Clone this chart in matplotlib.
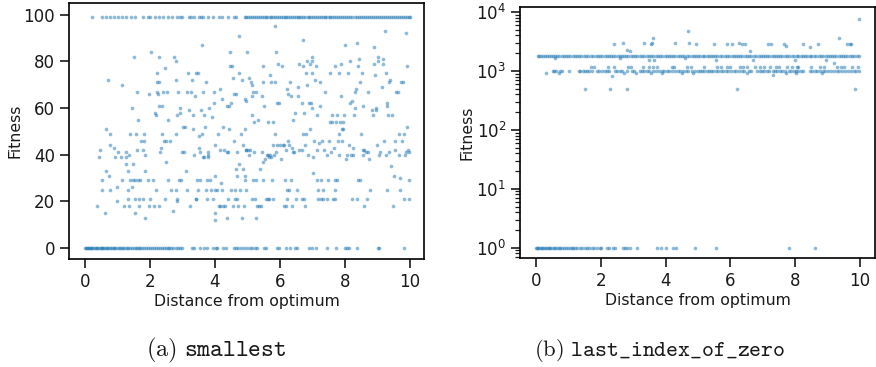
import matplotlib.pyplot as plt
import numpy as np

plt.rcParams['mathtext.fontset'] = 'cm'
plt.rcParams['font.size'] = 11.3
plt.rcParams['text.color'] = '#1a1a1a'
plt.rcParams['axes.labelcolor'] = '#1a1a1a'
plt.rcParams['xtick.color'] = '#1a1a1a'
plt.rcParams['ytick.color'] = '#1a1a1a'

# --- (a) smallest ---
a_top_x = [0.22, 0.51, 0.64, 0.76, 0.88, 1.01, 1.13, 1.25, 1.41, 1.53, 1.79, 1.95, 1.99, 2.16, 2.28,
           2.4, 2.56, 2.68, 2.82, 2.93, 2.98, 3.21, 3.26, 3.35, 3.51, 3.57, 3.64, 3.79, 3.95, 4.11,
           4.23, 4.39, 4.59, 4.64,
           4.92, 4.97, 5.03, 5.08, 5.15, 5.2, 5.27, 5.33, 5.38, 5.45, 5.5, 5.56, 5.61, 5.68, 5.72,
           5.79, 5.85, 5.9, 5.96, 6.02, 6.08, 6.15, 6.2, 6.26, 6.31, 6.38, 6.44, 6.5, 6.55, 6.6,
           6.66, 6.72, 6.78, 6.85, 6.9, 6.95, 7.01, 7.07, 7.13, 7.2, 7.25, 7.31, 7.37, 7.43, 7.5,
           7.55, 7.6, 7.66, 7.72, 7.79, 7.84, 7.9, 7.97, 8.03, 8.1, 8.16, 8.22, 8.3, 8.36, 8.42,
           8.49, 8.55, 8.61, 8.68, 8.73, 8.8, 8.86, 8.92, 8.98, 9.05, 9.1, 9.17, 9.23, 9.3, 9.36,
           9.42, 9.48, 9.55, 9.6, 9.67, 9.73, 9.79, 9.85, 9.9, 9.96, 10.0]
a_top_val = 99

a_zero_x = [0.0, 0.03, 0.06, 0.09, 0.12, 0.16, 0.19, 0.22, 0.26, 0.3, 0.33, 0.37, 0.41, 0.45, 0.48,
            0.52, 0.56, 0.6, 0.64, 0.68, 0.72, 0.76, 0.8, 0.85, 0.9, 0.94, 0.99, 1.04, 1.08, 1.13,
            1.18, 1.23, 1.28, 1.34, 1.4, 1.45, 1.5, 1.56, 1.61, 1.65, 1.7, 1.76, 1.82, 1.88, 1.95,
            2.01, 2.07, 2.13, 2.19, 2.25, 2.3, 2.36, 2.42, 2.48, 2.54, 2.6, 2.66, 2.72, 2.8, 2.86,
            2.92, 2.98, 3.3, 3.36, 3.55, 3.65, 3.75, 3.95, 4.02, 4.05, 4.25, 4.35, 4.6, 4.66, 4.72,
            4.8, 4.9, 4.98, 5.08, 5.15, 5.22, 5.3, 5.5, 5.56, 5.9, 5.96, 6.2, 6.3, 6.45, 6.52, 6.9,
            7.0, 7.12, 7.44, 7.73, 8.0, 8.06, 8.12, 8.36, 9.0, 9.06, 9.83]

a_mid_x = [0.38, 0.42, 0.47, 0.52, 0.52, 0.62, 0.64, 0.66, 0.71, 0.76, 0.77, 0.76, 0.75, 0.88, 0.91,
           0.99, 0.99, 1.03, 1.13, 1.1, 1.13, 1.2, 1.25, 1.25, 1.27, 1.31, 1.32, 1.35, 1.38, 1.38,
           1.32, 1.37, 1.45, 1.48, 1.51, 1.45, 1.48, 1.53, 1.55, 1.53, 1.58, 1.61, 1.61, 1.63, 1.64,
           1.66, 1.66, 1.69, 1.74, 1.79, 1.79, 1.82, 1.82, 1.85, 1.86, 1.86, 1.94, 1.96, 1.99, 1.98,
           2.02, 2.09, 2.12, 2.16, 2.2, 2.2, 2.22, 2.22, 2.23, 2.25, 2.27, 2.29, 2.29, 2.29, 2.3,
           2.33, 2.37, 2.37, 2.4, 2.43, 2.45, 2.47, 2.48, 2.5, 2.51, 2.56, 2.56, 2.61, 2.66, 2.71,
           2.73, 2.79, 2.79, 2.8, 2.82, 2.84, 2.8, 2.82, 2.87, 2.9, 2.92, 2.93, 2.97, 3.0, 3.05,
           3.02, 3.09, 3.12, 3.15, 3.15, 3.16, 3.19, 3.23, 3.27, 3.29, 3.31, 3.33, 3.35, 3.39, 3.41,
           3.43, 3.43, 3.46, 3.49, 3.49, 3.52, 3.54, 3.51, 3.54, 3.57, 3.59, 3.59, 3.62, 3.64, 3.66,
           3.66, 3.68, 3.71, 3.72, 3.74, 3.76, 3.78, 3.79, 3.8, 3.84, 3.83, 3.87, 3.91, 3.95, 3.97,
           3.98, 3.99, 3.99, 3.99, 4.01, 4.01, 4.07, 4.1, 4.12, 4.15, 4.17, 4.17, 4.2, 4.22, 4.23,
           4.24, 4.26, 4.27, 4.32, 4.36, 4.37, 4.38, 4.41, 4.41, 4.44, 4.44, 4.46, 4.46, 4.48, 4.49,
           4.53, 4.56, 4.56, 4.59, 4.6, 4.61, 4.61, 4.64, 4.65, 4.67, 4.67, 4.69, 4.72, 4.73, 4.73,
           4.74, 4.76, 4.8, 4.84, 4.85, 4.84, 4.87, 4.9, 4.92, 4.92, 4.92, 4.93, 4.94, 4.95, 4.97,
           4.97, 4.99, 5.02, 5.04, 5.05, 5.08, 5.11, 5.13, 5.14, 5.15, 5.15, 5.18, 5.18, 5.2, 5.21,
           5.23, 5.26, 5.27, 5.26, 5.28, 5.31, 5.36, 5.39, 5.42, 5.44, 5.46, 5.47, 5.48, 5.49, 5.49,
           5.52, 5.54, 5.56, 5.59, 5.62, 5.62, 5.64, 5.65, 5.67, 5.69, 5.7, 5.71, 5.73, 5.75, 5.78,
           5.78, 5.8, 5.82, 5.84, 5.85, 5.86, 5.88, 5.88, 5.9, 5.92, 5.95, 5.98, 6.0, 6.03, 6.05,
           6.08, 6.12, 6.13, 6.15, 6.18, 6.19, 6.22, 6.22, 6.23, 6.26, 6.26, 6.27, 6.29, 6.31, 6.33,
           6.34, 6.36, 6.38, 6.39, 6.41, 6.44, 6.46, 6.5, 6.52, 6.55, 6.55, 6.57, 6.6, 6.67, 6.67,
           6.7, 6.7, 6.67, 6.72, 6.73, 6.76, 6.74, 6.77, 6.79, 6.79, 6.82, 6.84, 6.87, 6.9, 6.93,
           6.93, 6.96, 6.98, 6.98, 6.99, 7.0, 7.01, 7.03, 7.05, 7.07, 7.11, 7.13, 7.15, 7.15, 7.18,
           7.18, 7.21, 7.24, 7.24, 7.26, 7.27, 7.29, 7.31, 7.32, 7.34, 7.39, 7.44, 7.46, 7.49, 7.51,
           7.54, 7.54, 7.57, 7.59, 7.6, 7.63, 7.65, 7.68, 7.68, 7.7, 7.7, 7.73, 7.75, 7.75, 7.77,
           7.8, 7.81, 7.83, 7.85, 7.87, 7.87, 7.9, 7.92, 7.93, 7.95, 7.97, 8.01, 8.04, 8.06, 8.1,
           8.12, 8.14, 8.16, 8.18, 8.21, 8.21, 8.24, 8.26, 8.28, 8.3, 8.31, 8.35, 8.37, 8.37, 8.39,
           8.4, 8.42, 8.45, 8.47, 8.5, 8.52, 8.54, 8.55, 8.55, 8.57, 8.59, 8.65, 8.67, 8.7, 8.72,
           8.75, 8.78, 8.83, 8.86, 8.88, 8.9, 8.93, 8.95, 8.96, 8.98, 9.0, 9.03, 9.05, 9.08, 9.13,
           9.16, 9.18, 9.2, 9.24, 9.25, 9.27, 9.29, 9.29, 9.29, 9.31, 9.34, 9.36, 9.39, 9.42, 9.45,
           9.48, 9.5, 9.53, 9.55, 9.58, 9.62, 9.65, 9.66, 9.68, 9.7, 9.73, 9.75, 9.78, 9.8, 9.83,
           9.86, 9.87, 9.89, 9.91, 9.92, 9.94, 9.96, 9.97, 9.98]
a_mid_y = [18, 39, 42, 29, 25, 15, 33, 51, 72, 44, 49, 25, 31, 43, 39,
           20, 26, 41, 70, 39, 29, 18, 39, 36, 41, 25, 33, 40, 49, 29,
           21, 18, 60, 36, 82, 26, 29, 29, 15, 21, 49, 67, 42, 55, 29,
           21, 18, 29, 46, 42, 21, 49, 46, 40, 33, 13, 29, 18, 21, 66,
           84, 29, 18, 58, 57, 25, 71, 67, 75, 66, 71, 18, 82, 61, 41,
           43, 61, 49, 67, 46, 77, 21, 46, 37, 67, 55, 29, 46, 25, 16,
           82, 80, 72, 49, 20, 21, 25, 57, 67, 29, 58, 60, 29, 41, 41,
           52, 52, 33, 25, 67, 75, 59, 18, 67, 72, 57, 51, 40, 65, 21,
           21, 75, 29, 75, 25, 43, 41, 48, 29, 59, 49, 87, 39, 67, 57,
           39, 52, 25, 71, 29, 21, 40, 39, 41, 29, 60, 25, 56, 21, 62,
           67, 44, 31, 15, 25, 12, 25, 49, 18, 42, 18, 68, 28, 25, 64,
           52, 18, 42, 18, 13, 61, 41, 41, 21, 61, 51, 84, 78, 62, 25,
           78, 73, 18, 66, 46, 21, 25, 34, 66, 41, 21, 31, 18, 91, 75,
           36, 25, 49, 72, 34, 13, 44, 18, 64, 31, 29, 51, 42, 63, 25,
           42, 84, 42, 40, 73, 42, 71, 65, 57, 21, 70, 67, 29, 41, 54,
           21, 67, 13, 29, 18, 55, 18, 34, 18, 65, 41, 29, 37, 78, 71,
           61, 38, 21, 40, 21, 54, 40, 39, 21, 40, 74, 39, 71, 29, 54,
           21, 44, 40, 95, 49, 71, 84, 41, 62, 44, 79, 62, 44, 38, 78,
           44, 18, 44, 29, 18, 42, 25, 21, 68, 46, 66, 25, 44, 71, 65,
           29, 43, 18, 55, 41, 41, 58, 21, 25, 65, 69, 79, 42, 62, 42,
           89, 78, 21, 49, 58, 44, 21, 18, 49, 75, 80, 70, 40, 62, 51,
           79, 62, 80, 82, 75, 60, 32, 39, 46, 72, 78, 57, 42, 29, 25,
           21, 45, 61, 71, 21, 29, 46, 21, 25, 42, 67, 40, 21, 29, 46,
           75, 54, 41, 57, 54, 21, 43, 29, 78, 21, 25, 54, 57, 29, 46,
           49, 75, 40, 54, 79, 65, 51, 46, 51, 54, 57, 87, 38, 40, 75,
           44, 62, 80, 40, 21, 63, 40, 43, 57, 60, 67, 68, 21, 88, 29,
           78, 81, 29, 71, 49, 75, 42, 61, 40, 18, 42, 41, 21, 67, 41,
           38, 25, 59, 57, 86, 79, 74, 60, 59, 44, 82, 80, 40, 41, 69,
           81, 79, 46, 93, 40, 75, 62, 61, 25, 57, 41, 71, 72, 35, 57,
           18, 31, 42, 46, 67, 67, 49, 40, 30, 25, 71, 46, 71, 21, 49,
           40, 92, 41, 52, 78, 42, 29, 21, 41]

# --- (b) last_index_of_zero ---
b_upper_x = [0.05, 0.1, 0.16, 0.21, 0.27, 0.33, 0.4, 0.46, 0.52, 0.58, 0.65, 0.72, 0.8, 0.86, 0.93,
             1.0, 1.06, 1.13, 1.2, 1.27, 1.33, 1.4, 1.47, 1.55, 1.62, 1.7, 1.77, 1.85, 1.92, 1.98,
             2.05, 2.12, 2.18, 2.25, 2.31, 2.38, 2.45, 2.52, 2.58, 2.65, 2.72, 2.78, 2.85, 2.92, 3.0,
             3.06, 3.13, 3.2, 3.27, 3.35, 3.42, 3.48, 3.55, 3.62, 3.7, 3.77, 3.84, 3.9, 3.97, 4.04,
             4.1, 4.17, 4.24, 4.3, 4.37, 4.44, 4.5, 4.58, 4.65, 4.72, 4.8, 4.87, 4.94, 5.0, 5.07,
             5.14, 5.2, 5.27, 5.34, 5.4, 5.47, 5.54, 5.6, 5.68, 5.75, 5.82, 5.9, 5.97, 6.04, 6.1,
             6.17, 6.24, 6.3, 6.37, 6.44, 6.5, 6.58, 6.65, 6.72, 6.8, 6.87, 6.94, 7.0, 7.07, 7.14,
             7.2, 7.27, 7.34, 7.4, 7.47, 7.54, 7.6, 7.68, 7.75, 7.82, 7.9, 7.97, 8.04, 8.1, 8.17,
             8.24, 8.3, 8.37, 8.44, 8.5, 8.58, 8.65, 8.72, 8.8, 8.87, 8.94, 9.0, 9.07, 9.14, 9.2,
             9.27, 9.34, 9.4, 9.47, 9.54, 9.6, 9.68, 9.75, 9.82, 9.9, 9.97]
b_upper_val = 1780

b_lower_x = [0.52, 0.56, 0.62, 0.75, 0.82, 1.03, 1.32, 1.37, 1.45, 1.52, 1.58, 1.65, 1.72, 1.88,
             1.95, 2.05, 2.12, 2.2, 2.27, 2.43, 2.5, 2.58, 2.65, 2.8, 2.95, 3.03, 3.2, 3.27, 3.35,
             3.42, 3.48, 3.62, 3.7, 3.8, 3.88, 3.95, 4.05, 4.12, 4.2, 4.3, 4.38, 4.45, 4.55, 4.62,
             4.7, 4.8, 4.92, 5.0, 5.07, 5.13, 5.2, 5.27, 5.34, 5.4, 5.47, 5.55, 5.62, 5.7, 5.78,
             5.86, 5.94, 6.02, 6.1, 6.18, 6.27, 6.35, 6.42, 6.58, 6.65, 6.82, 6.9, 6.97, 7.05,
             7.12, 7.2, 7.3, 7.38, 7.45, 7.52, 7.6, 7.68, 7.8, 7.87, 7.95, 8.02, 8.1, 8.17, 8.25,
             8.45, 8.53, 8.6, 8.68, 8.75, 8.85, 8.92, 9.0, 9.1, 9.2, 9.28, 9.35, 9.45, 9.55, 9.63,
             9.72, 9.8, 9.88, 9.96]
b_lower_val = 1000

b_one_x = [0.0, 0.03, 0.07, 0.11, 0.15, 0.19, 0.23, 0.27, 0.31, 0.36, 0.4, 0.45, 0.5, 0.55, 0.6,
           0.65, 0.7, 0.75, 0.8, 0.86, 0.92, 0.98, 1.04, 1.1, 1.16, 1.22, 1.28, 1.35, 1.42, 1.5,
           1.57, 1.65, 1.72, 1.8, 1.88, 1.97, 2.02, 2.2, 2.25, 2.38, 2.45, 2.68, 2.75, 2.82, 2.9,
           3.12, 3.75, 3.86, 4.0, 4.24, 4.32, 4.92, 5.56, 7.82, 8.6]
b_one_val = 1

b_other_x = [1.5, 2.3, 2.8, 6.2, 9.83, 2.35, 7.3,
             2.4, 2.68, 3.35, 3.55, 3.58, 4.3, 4.72, 4.95, 5.5, 5.9, 6.05, 6.25, 6.35, 6.45,
             7.15, 7.25, 7.65, 7.7, 8.25, 8.45, 8.7, 9.6, 9.68, 9.72,
             3.6, 9.35, 4.7, 9.98, 2.8, 2.9, 6.6,
             3.5, 3.65, 5.55, 6.7, 8.0, 8.95, 9.2, 0.6, 2.6, 4.6,
             1.7, 1.8, 2.22, 2.42, 2.85, 2.92, 3.3, 3.5, 3.6, 3.75, 4.2, 4.25, 4.65, 4.78, 5.2,
             5.6, 5.7, 5.9, 6.0, 6.3, 6.4, 6.5, 6.75, 6.9, 7.05, 7.22, 7.4, 7.5, 7.75, 7.9, 8.05,
             8.1, 8.5, 8.75, 8.9, 9.3, 9.4, 9.5, 9.75, 9.95,
             0.3, 0.7, 2.72, 3.1, 3.55, 3.9, 4.5, 4.85, 6.52, 7.72, 8.02, 8.82]
b_other_y = [500, 500, 500, 500, 500, 820, 850,
             2850, 2950, 2950, 2800, 2950, 2950, 2950, 2900, 2850, 2800, 2800, 2950, 2850, 2800,
             2850, 2850, 2800, 2650, 2800, 2550, 2850, 2800, 2800, 2800,
             3650, 3650, 4700, 7600, 2300, 2150, 2150,
             1550, 1500, 1500, 1500, 1550, 1500, 1350, 1650, 1650, 1650,
             1150, 1150, 1150, 1150, 1150, 1150, 1150, 1150, 1150, 1150, 1150, 1150, 1150, 1150, 1150,
             1150, 1150, 1150, 1150, 1150, 1150, 1150, 1150, 1150, 1150, 1150, 1150, 1150, 1150, 1150, 1150,
             1150, 1150, 1150, 1150, 1150, 1150, 1150, 1150, 1150,
             930, 930, 930, 930, 930, 930, 930, 930, 930, 930, 930, 930]

captions = [r'$\mathrm{(a)}\ \mathtt{smallest}$', r'$\mathrm{(b)}\ \mathtt{last\_index\_of\_zero}$']

a_x = np.concatenate([a_top_x, a_zero_x, a_mid_x])
a_y = np.concatenate([np.full(len(a_top_x), a_top_val), np.zeros(len(a_zero_x)), a_mid_y])
b_x = np.concatenate([b_upper_x, b_lower_x, b_one_x, b_other_x])
b_y = np.concatenate([np.full(len(b_upper_x), b_upper_val), np.full(len(b_lower_x), b_lower_val),
                      np.full(len(b_one_x), b_one_val), b_other_y])

fig = plt.figure(figsize=(8.76, 3.67), dpi=100)
ax1 = fig.add_axes([69 / 876, 1 - 259 / 367, 355 / 876, 256 / 367])
ax2 = fig.add_axes([520 / 876, 1 - 258 / 367, 355 / 876, 251 / 367])

for ax, x, y in [(ax1, a_x, a_y), (ax2, b_x, b_y)]:
    ax.scatter(x, y, s=7, color='#1f77b4', alpha=0.5, linewidths=0)
    ax.set_xlabel('Distance from optimum', labelpad=2)
    ax.set_ylabel('Fitness', labelpad=1)
    ax.set_xticks([0, 2, 4, 6, 8, 10])
    ax.tick_params(which='major', length=6.5, width=1.2, labelsize=12)
    ax.tick_params(which='minor', length=3.5, width=0.9)
    for sp in ax.spines.values():
        sp.set_linewidth(1.2)

ax1.set_xlim(-0.49, 10.43)
ax1.set_ylim(-4.7, 105)
ax1.set_yticks([0, 20, 40, 60, 80, 100])

ax2.set_yscale('log')
ax2.set_xlim(-0.49, 10.46)
ax2.set_ylim(0.67, 12100)

fig.text(216 / 876, 1 - 350 / 367, captions[0], ha='center', va='center', fontsize=17.5)
fig.text(660 / 876, 1 - 350 / 367, captions[1], ha='center', va='center', fontsize=16.3)

fig.savefig('out.png', dpi=100)
